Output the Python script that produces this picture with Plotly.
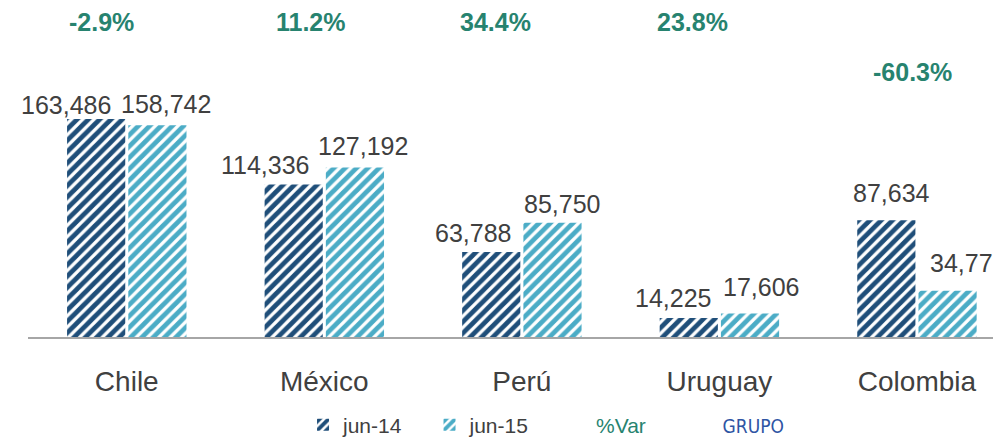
import plotly.graph_objects as go

# ---- data ----
categories = ["Chile", "México", "Perú", "Uruguay", "Colombia"]
jun14 = [163486, 114336, 63788, 14225, 87634]
jun15 = [158742, 127192, 85750, 17606, 34775]
pct_var = [-2.9, 11.2, 34.4, 23.8, -60.3]

# ---- style ----
W, H = 993, 440
ML, MR, MT, MB = 28, 0, 10, 103
X_RANGE = [-0.5, 4.385]
Y_RANGE = [0, 245250]
BARGAP, GROUPGAP = 0.38, 0.05
C14, C15 = "#1F4E79", "#4BACC6"
TXT = "#404040"
TEAL = "#27836F"
BLUE = "#2F55A4"
FONT = "Liberation Sans, Arial, sans-serif"

# label tweaks (pixels) as in the source chart
j14_dx = [-30, -28, -18, -16, 5]
j14_dy = [14.5, 20, 19, 20, 27]
j15_dx = [9, 8.5, 10, 11, 20]
j15_dy = [21, 21, 19, 27, 28]
pct_dx = [-25.5, -13.5, -26, -27, -4]
pct_y = [0.963, 0.963, 0.963, 0.963, 0.81]

def pat(color):
    return dict(shape="/", fgcolor=color, bgcolor="white", fgopacity=1,
                size=8, solidity=0.6)

fig = go.Figure()
fig.add_trace(go.Bar(
    x=categories, y=jun14, name="jun-14",
    marker=dict(color="white", line=dict(width=0), pattern=pat(C14)),
))
fig.add_trace(go.Bar(
    x=categories, y=jun15, name="jun-15",
    marker=dict(color="white", line=dict(width=0), pattern=pat(C15)),
))
fig.add_trace(go.Scatter(
    x=[None], y=[None], mode="markers", name=f'<span style="color:{TEAL}">%Var</span>',
    marker=dict(color="rgba(0,0,0,0)", size=1),
))
fig.add_trace(go.Scatter(
    x=[None], y=[None], mode="markers",
    name=(f'<span style="color:{BLUE};font-family:\'Liberation Sans Narrow\','
          f'\'DejaVu Sans Condensed\',\'DejaVu Sans\';font-size:19px">GRUPO</span>'),
    marker=dict(color="rgba(0,0,0,0)", size=1),
))

plot_w = W - ML - MR
cat_px = plot_w / (X_RANGE[1] - X_RANGE[0])
bar_off = cat_px * (1 - BARGAP) / 4

annotations = []
for i, c in enumerate(categories):
    annotations.append(dict(
        x=c, y=jun14[i], xref="x", yref="y", text=f"{jun14[i]:,}", showarrow=False,
        xanchor="center", yanchor="middle", xshift=-bar_off + j14_dx[i], yshift=j14_dy[i],
        font=dict(family=FONT, size=25, color=TXT)))
    annotations.append(dict(
        x=c, y=jun15[i], xref="x", yref="y", text=f"{jun15[i]:,}", showarrow=False,
        xanchor="center", yanchor="middle", xshift=bar_off + j15_dx[i], yshift=j15_dy[i],
        font=dict(family=FONT, size=25, color=TXT)))
    annotations.append(dict(
        x=c, y=pct_y[i], xref="x", yref="paper", text=f"<b>{pct_var[i]:.1f}%</b>", showarrow=False,
        xanchor="center", yanchor="middle", xshift=pct_dx[i],
        font=dict(family=FONT, size=25, color=TEAL)))

fig.update_layout(
    width=W, height=H,
    margin=dict(l=ML, r=MR, t=MT, b=MB, autoexpand=False),
    paper_bgcolor="white", plot_bgcolor="white",
    barmode="group", bargap=BARGAP, bargroupgap=GROUPGAP,
    font=dict(family=FONT, color=TXT),
    xaxis=dict(range=X_RANGE, showline=True, linecolor="#A6A6A6", linewidth=2,
               showgrid=False, ticks="", tickfont=dict(size=28, color=TXT),
               ticklabelstandoff=18, zeroline=False, automargin=False),
    yaxis=dict(range=Y_RANGE, visible=False, showgrid=False, zeroline=False, automargin=False),
    showlegend=True,
    legend=dict(orientation="h", x=0.285, xanchor="left",
                yref="container", y=(H - 425) / H, yanchor="middle",
                font=dict(size=21, color=TXT), entrywidth=81.5, entrywidthmode="pixels",
                bgcolor="rgba(0,0,0,0)", traceorder="normal"),
    annotations=annotations,
)

fig.write_html("out.html", config={"displayModeBar": False},
               post_script="document.body.style.margin='0';document.body.style.overflow='hidden';")
